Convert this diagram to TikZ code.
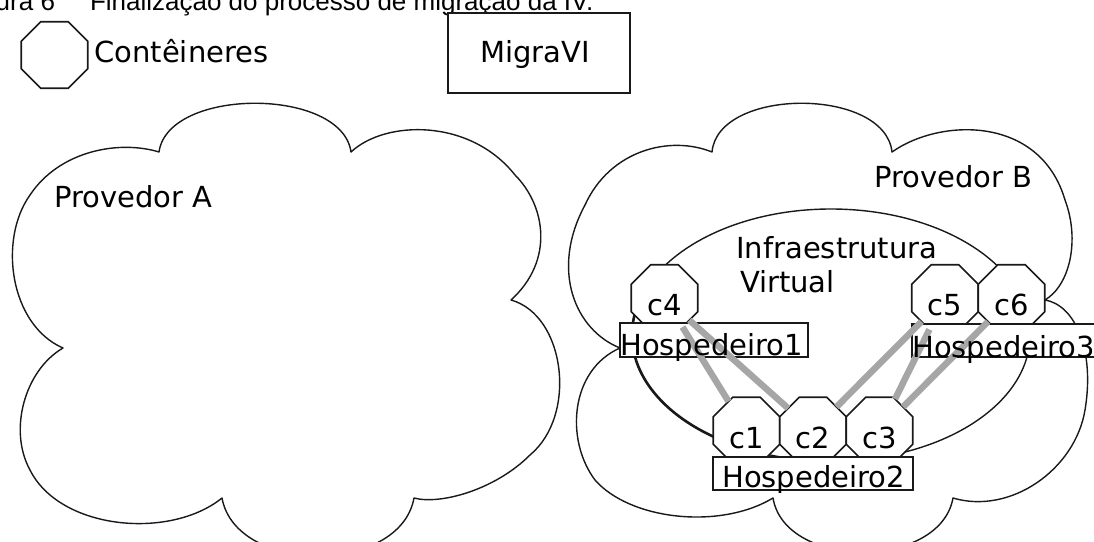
\documentclass[tikz,border=0pt]{standalone}
\usepackage{fontspec}
\setmainfont{DejaVu Sans}
\newfontfamily\capfont{Liberation Sans}
\usetikzlibrary{shapes.geometric}
\begin{document}
\begin{tikzpicture}[x=1pt,y=-1pt,
  outline/.style={draw=black!90, line width=1.4pt, line join=round},
  octo/.style={regular polygon, regular polygon sides=8, minimum size=72pt,
    inner sep=0pt, outer sep=0pt, draw=black!90, line width=1.6pt, fill=white},
  hostbox/.style={rectangle, draw=black!90, line width=1.6pt, fill=white,
    inner sep=0pt, outer sep=0pt},
  link/.style={draw=gray!70, line width=6.5pt},
  txt/.style={inner sep=0pt, outer sep=0pt, anchor=base west,
    font=\fontsize{29}{34.5}\selectfont},
  clabel/.style={inner sep=0pt, outer sep=0pt, anchor=base,
    font=\fontsize{29}{34.5}\selectfont},
  captxt/.style={inner sep=0pt, outer sep=0pt,
    font=\capfont\fontsize{26}{31}\selectfont},
]
\useasboundingbox (0,0) rectangle (1094,541);
\clip (0,0) rectangle (1094,541);

% caption line
\node[captxt, anchor=base east] (figno) at (55,10) {Figura 6};
\node[captxt, anchor=base west] (figtitle) at (90,10) {Finalização do processo de migração da IV.};

% cloud of provider A
\draw[outline] (159,152)
  .. controls (168,87) and (342,87) .. (351,152)
  .. controls (385,120) and (470,118) .. (515,175)
  .. controls (545,205) and (555,260) .. (511,300)
  .. controls (565,315) and (578,415) .. (530,455)
  .. controls (495,490) and (440,505) .. (414,498)
  .. controls (400,575) and (236,575) .. (222,498)
  .. controls (170,540) and (60,530) .. (30,470)
  .. controls (8,430) and (25,370) .. (63,348)
  .. controls (10,325) and (-2,240) .. (30,195)
  .. controls (60,150) and (120,140) .. (159,152) -- cycle;

% cloud of provider B
\draw[outline] (712,152)
  .. controls (718,87) and (885,87) .. (892,152)
  .. controls (940,118) and (1040,115) .. (1065,200)
  .. controls (1080,240) and (1070,285) .. (1045,300)
  .. controls (1075,305) and (1095,350) .. (1085,410)
  .. controls (1075,470) and (1010,515) .. (953,498)
  .. controls (940,570) and (785,570) .. (773,498)
  .. controls (720,530) and (630,520) .. (595,480)
  .. controls (565,440) and (570,370) .. (620,348)
  .. controls (575,330) and (550,270) .. (585,205)
  .. controls (610,150) and (670,135) .. (712,152) -- cycle;

% virtual infrastructure
\draw[outline] (831,335) ellipse [x radius=199, y radius=126];
\draw[draw=black!90, line width=2.6pt] (635,313.1)
  arc [start angle=190, end angle=120, x radius=199, y radius=126];

% legend
\node[octo] (legoct) at (54.5,55) {};
\node[txt] (tcont) at (94.4,62) {Contêineres};
\node[hostbox, minimum width=182pt, minimum height=80pt] (migra) at (539,53) {};
\node[txt] (tmigra) at (480.2,62) {MigraVI};

% containers
\node[octo] (c4) at (664.5,298) {};
\node[octo] (c5) at (945,298) {};
\node[octo] (c6) at (1011.5,298) {};
\node[octo] (c1) at (746.5,430.5) {};
\node[octo] (c2) at (813,430.5) {};
\node[octo] (c3) at (879.5,430.5) {};

% hosts
\node[hostbox, minimum width=188pt, minimum height=34pt] (h1) at (714,340) {};
\node[hostbox, minimum width=200pt, minimum height=33pt] (h2) at (813,473.5) {};
\node[hostbox, minimum width=200pt, minimum height=33pt] (h3) at (1012,340.5) {};

% links between containers
\draw[link] (c4) -- (c1);
\draw[link] (c4) -- (c2);
\draw[link] (c5) -- (c2);
\draw[link] (c5) -- (c3);
\draw[link] (c6) -- (c3);

% labels
\node[txt] (tprovA) at (54.2,207) {Provedor A};
\node[txt] (tprovB) at (874.2,187) {Provedor B};
\node[txt] (tinfra) at (736.2,258) {Infraestrutura};
\node[txt] (tvirt) at (740,292) {Virtual};
\node[clabel] (lc4) at (664.5,315) {c4};
\node[clabel] (lc5) at (945,315) {c5};
\node[clabel] (lc6) at (1011.5,315) {c6};
\node[clabel] (lc1) at (746.5,448) {c1};
\node[clabel] (lc2) at (813,448) {c2};
\node[clabel] (lc3) at (879.5,448) {c3};
\node[txt] (th1) at (620.2,355) {Hospedeiro1};
\node[txt] (th2) at (722.2,487) {Hospedeiro2};
\node[txt] (th3) at (912.2,357) {Hospedeiro3};
\end{tikzpicture}
\end{document}
